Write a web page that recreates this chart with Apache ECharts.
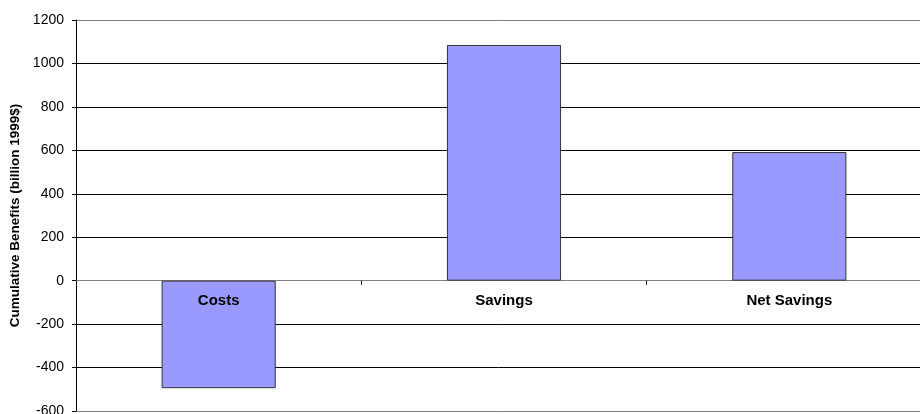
<!DOCTYPE html>
<html>
<head>
<meta charset="utf-8">
<script src="https://cdn.jsdelivr.net/npm/echarts@6/dist/echarts.min.js"></script>
<style>html,body{margin:0;padding:0;background:#fff;}#c{width:920px;height:414px;}</style>
</head>
<body>
<div id="c"></div>
<script>
var categories = ['Costs', 'Savings', 'Net Savings'];
var values = [-495, 1085, 592];
var yMin = -600, yMax = 1200, yStep = 200;
var yTitle = 'Cumulative Benefits (billion 1999$)';

var chart = echarts.init(document.getElementById('c'), null, {renderer: 'canvas'});
var FONT = '"Liberation Sans", Arial, sans-serif';
var nLines = (yMax - yMin) / yStep + 1;
var gridColors = [];
for (var i = 0; i < nLines; i++) gridColors.push((i === 0 || i === nLines - 1) ? '#808080' : '#000000');

var labelAxis = {
  type: 'category',
  data: categories,
  position: 'bottom',
  offset: 0,
  z: 10,
  boundaryGap: true,
  axisLine: {show: false, onZero: false},
  axisTick: {show: false},
  axisLabel: {color: '#000', fontFamily: FONT, fontSize: 15, fontWeight: 'bold', margin: 13},
  splitLine: {show: false}
};

chart.setOption({
  animation: false,
  backgroundColor: '#ffffff',
  grid: {left: 76, top: 20, width: 856, height: 391, containLabel: false, outerBoundsMode: 'none'},
  xAxis: [{
    type: 'category',
    data: categories,
    boundaryGap: true,
    axisLine: {onZero: true, lineStyle: {color: '#808080', width: 1}},
    axisTick: {show: true, length: 4, inside: false, lineStyle: {color: '#000'}},
    axisLabel: {show: false},
    splitLine: {show: false}
  }, labelAxis],
  yAxis: {
    type: 'value',
    min: yMin, max: yMax, interval: yStep,
    name: yTitle,
    nameLocation: 'middle',
    nameRotate: 90,
    nameGap: 54,
    nameTextStyle: {color: '#000', fontFamily: FONT, fontSize: 13.5, fontWeight: 'bold'},
    axisLine: {show: true, lineStyle: {color: '#000', width: 1}},
    axisTick: {show: true, length: 4, inside: false, lineStyle: {color: '#000'}},
    axisLabel: {color: '#000', fontFamily: FONT, fontSize: 14, margin: 12, formatter: function (v) { return String(v); }},
    splitLine: {show: true, lineStyle: {color: gridColors, width: 1}}
  },
  series: [{
    type: 'bar',
    data: values,
    xAxisIndex: 0,
    barWidth: '40%',
    itemStyle: {color: '#9999FF', borderColor: '#333333', borderWidth: 1}
  }]
});

// place the category labels just under the zero line
var zeroPx = chart.convertToPixel({yAxisIndex: 0}, 0);
var bottomPx = chart.convertToPixel({yAxisIndex: 0}, yMin);
chart.setOption({xAxis: [{}, {offset: -(bottomPx - zeroPx)}]});
</script>
</body>
</html>
